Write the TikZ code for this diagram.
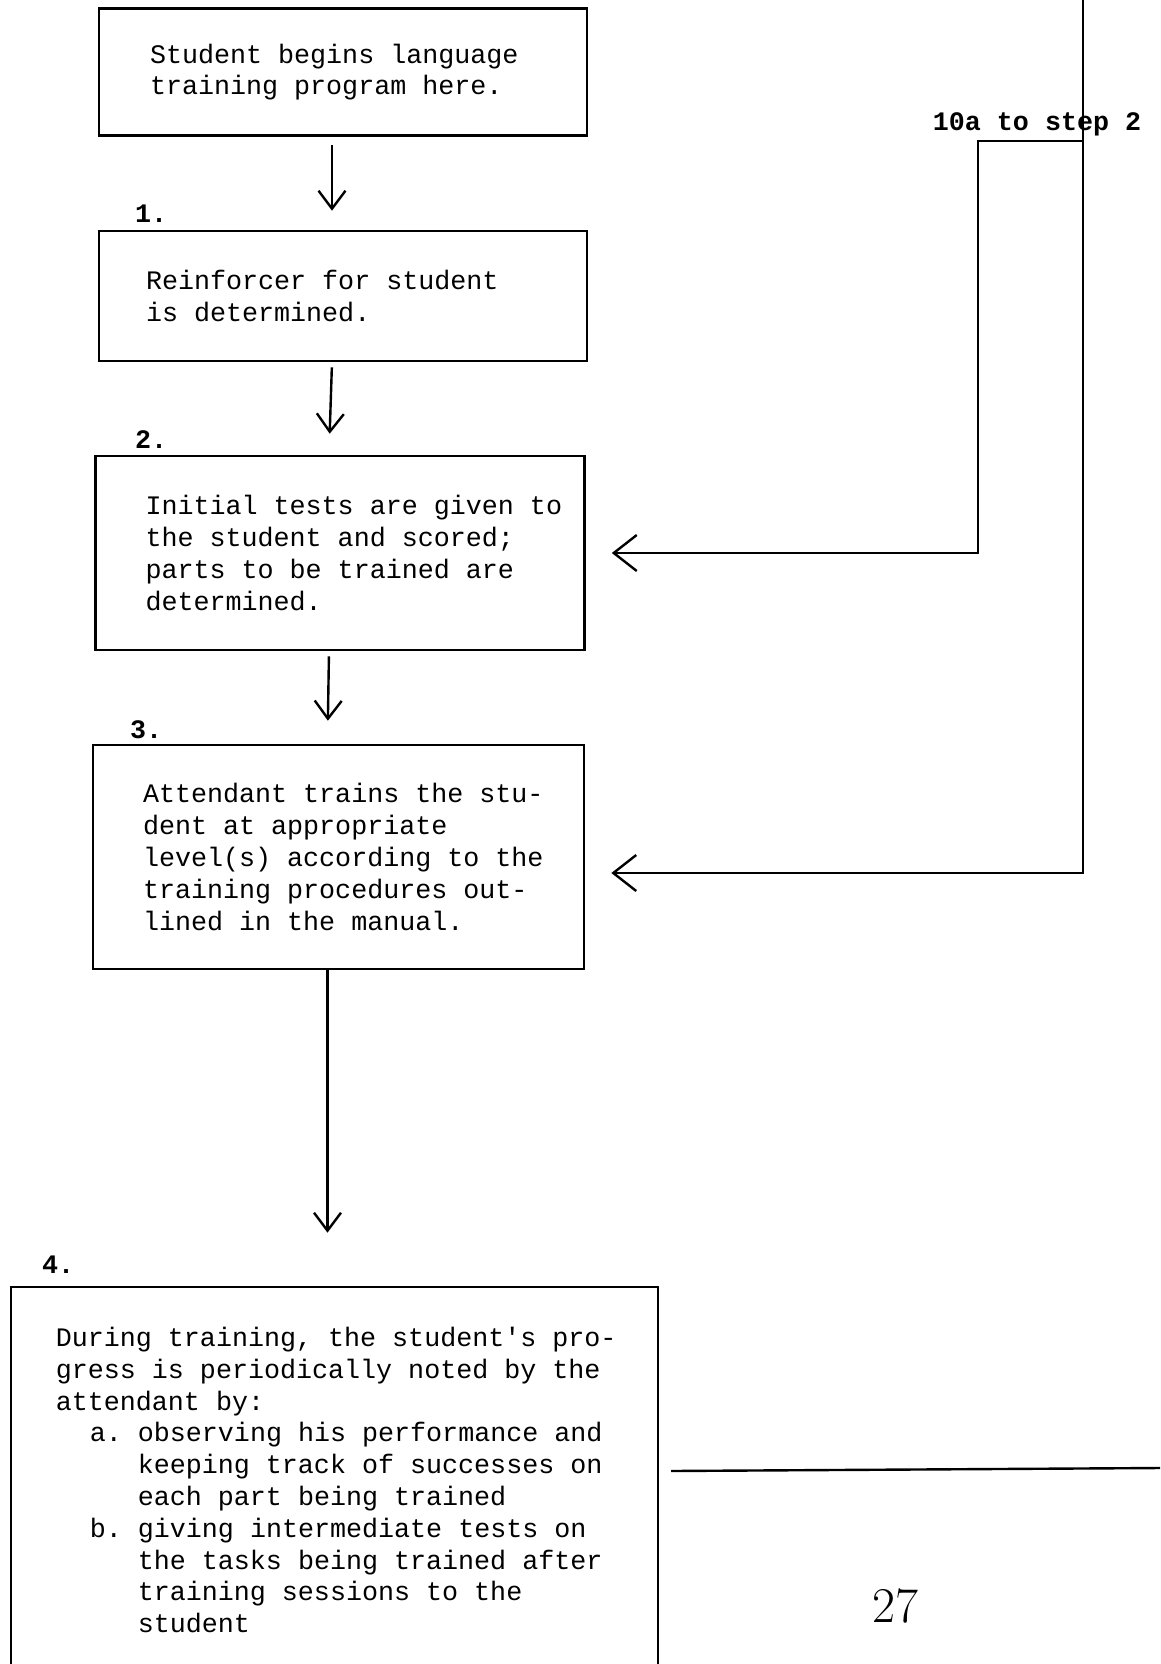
\documentclass[tikz,border=0pt]{standalone}
\usepackage{fontspec}
\setmonofont{Liberation Mono}
\usepackage{tikz}
\usetikzlibrary{arrows.meta}

\begin{document}
\begin{tikzpicture}[
  x=1pt, y=-1pt,
  stepbox/.style={
    draw,
    line width=2.6pt,
    align=left,
    font=\ttfamily\fontsize{26.7}{31.8}\selectfont,
    execute at begin node={\spaceskip=0.6em\xspaceskip=0.6em}
  },
  num/.style={
    font=\ttfamily\bfseries\fontsize{26.7}{31.8}\selectfont,
    inner sep=0pt
  },
  flow/.style={
    -{Straight Barb[length=18pt, width=27pt]},
    line width=2.4pt
  },
  back/.style={
    -{Straight Barb[length=23pt, width=36pt]},
    line width=2.4pt,
    shorten >=26pt
  }
]
\useasboundingbox (0,0) rectangle (1160,1664);

% Steps of the program
\node[stepbox, minimum height=127pt, inner xsep=51pt, text width=386pt] (s0) at (343,72) {Student begins language\\training program here.};
\node[stepbox, minimum height=130pt, inner xsep=47pt, text width=394pt] (s1) at (343,296) {Reinforcer for student\\is determined.};
\node[stepbox, minimum height=194pt, inner xsep=50pt, text width=389pt] (s2) at (340,553) {\mbox{Initial tests are given to}\\the student and scored;\\parts to be trained are\\determined.};
\node[stepbox, minimum height=224pt, inner xsep=50pt, text width=391pt] (s3) at (338.5,857) {\mbox{Attendant trains the stu-}\\dent at appropriate\\\mbox{level(s) according to the}\\training procedures out-\\lined in the manual.};
\node[stepbox, minimum height=386pt, inner xsep=45pt, text width=557pt] (s4) at (334.3,1480) {\mbox{During training, the student's pro-}\\gress is periodically noted by the\\attendant by:\\
\hspace*{34pt}a. observing his performance and\\
\hspace*{82pt}keeping track of successes on\\
\hspace*{82pt}each part being trained\\
\hspace*{34pt}b. giving intermediate tests on\\
\hspace*{82pt}the tasks being trained after\\
\hspace*{82pt}training sessions to the\\
\hspace*{82pt}student};

% Step numbers
\node[num, anchor=west] (n1) at (135,214) {1.};
\node[num, anchor=west] (n2) at (135,440) {2.};
\node[num, anchor=west] (n3) at (130,730) {3.};
\node[num, anchor=west] (n4) at (42,1265) {4.};

% Flow down
\draw[flow, shorten <=8pt, shorten >=19pt] ([xshift=-11pt]s0.south) -- ([xshift=-11pt]s1.north);
\draw[flow, shorten <=5pt, shorten >=21pt] ([xshift=-11pt]s1.south) -- ([xshift=-11pt]s2.north);
\draw[flow, shorten <=5pt, shorten >=23pt] ([xshift=-11pt]s2.south) -- ([xshift=-11pt]s3.north);
\draw[flow, shorten >=53pt] ([xshift=-11pt]s3.south) -- ([xshift=-11pt]s3.south |- s4.north);

% Return lines from step 10a
\coordinate (top) at (1083,0);
\coordinate (fork) at (1083,141);
\coordinate (bend) at (978,141);
\draw[back] (top) |- ([yshift=-16pt]s3.east);
\draw[back] (fork) -- (bend) |- (s2.east);
\node[num] (ret) at (1037,124) {10a to step 2};

% Page rule and number
\draw[line width=2.4pt] (671,1471) -- (1160,1468);
\node[font=\fontsize{50}{50}\selectfont] (pg) at (895,1606) {27};
\end{tikzpicture}
\end{document}
